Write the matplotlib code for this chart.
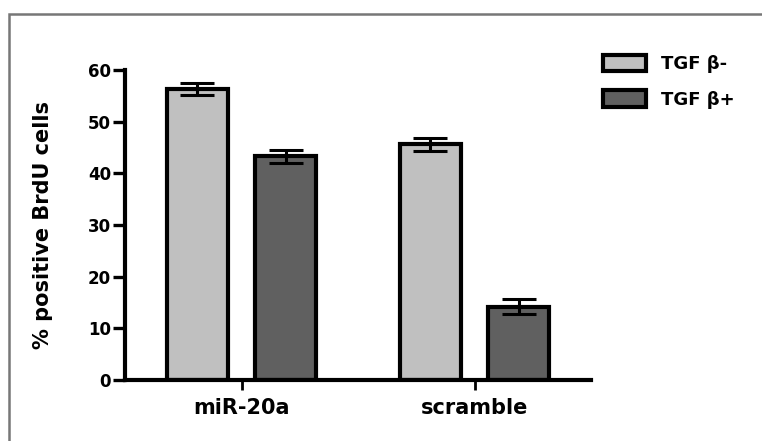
import numpy as np
import matplotlib
matplotlib.use('Agg')
import matplotlib.pyplot as plt
from matplotlib.patches import Rectangle

plt.rcParams['font.family'] = ['DejaVu Sans']
plt.rcParams['font.weight'] = 'bold'

# data
groups = ['miR-20a', 'scramble']
series_labels = ['TGF β-', 'TGF β+']
tgf_minus = [56.3, 45.6]
tgf_minus_err = [1.2, 1.3]
tgf_plus = [43.3, 14.2]
tgf_plus_err = [1.3, 1.5]
y_ticks = [0, 10, 20, 30, 40, 50, 60]

light = '#c0c0c0'
dark = '#606060'

fig = plt.figure(figsize=(7.62, 4.41), dpi=100)
ax = fig.add_axes([125 / 762, 1 - 380 / 441, (591 - 125) / 762, (380 - 70) / 441])

# grey frame round the panel (runs off right and bottom edges)
fig.patches.append(Rectangle((9 / 762, -0.2), 2.0, 1.2 - 14 / 441,
                             transform=fig.transFigure, fill=False,
                             edgecolor='#777777', linewidth=1.8))

x = np.arange(len(groups))
off = 0.19
w = 0.262
err_kw = dict(ecolor='black', elinewidth=2.2, capsize=12, capthick=2.2, zorder=4)

ax.bar(x - off, tgf_minus, w, color=light, edgecolor='black', linewidth=3,
       label=series_labels[0], zorder=2)
ax.bar(x + off, tgf_plus, w, color=dark, edgecolor='black', linewidth=3,
       label=series_labels[1], zorder=2)
ax.errorbar(x - off, tgf_minus, yerr=tgf_minus_err, fmt='none', **err_kw)
ax.errorbar(x + off, tgf_plus, yerr=tgf_plus_err, fmt='none', **err_kw)

ax.set_xlim(-0.5, 1.5)
ax.set_ylim(0, 60)
ax.set_yticks(y_ticks)
ax.set_xticks(x)
ax.set_xticklabels(groups, fontsize=15, fontweight='bold')
ax.tick_params(axis='y', length=8.5, width=2.4, pad=1.5, labelsize=12)
ax.tick_params(axis='x', length=7, width=2, pad=6)

for side in ['top', 'right']:
    ax.spines[side].set_visible(False)
for side in ['left', 'bottom']:
    ax.spines[side].set_linewidth(3)
ax.set_ylabel('% positive BrdU cells', fontsize=15, fontweight='bold')
ax.yaxis.set_label_coords(-0.155, 0.5)

ax.legend(loc='upper left', bbox_to_anchor=(603 / 762, 1 - 55 / 441),
          bbox_transform=fig.transFigure, frameon=False, fontsize=13,
          borderpad=0, borderaxespad=0, handlelength=2.4, handleheight=1.0,
          handletextpad=0.8, labelspacing=0.95)

fig.savefig('out.png', dpi=100)
